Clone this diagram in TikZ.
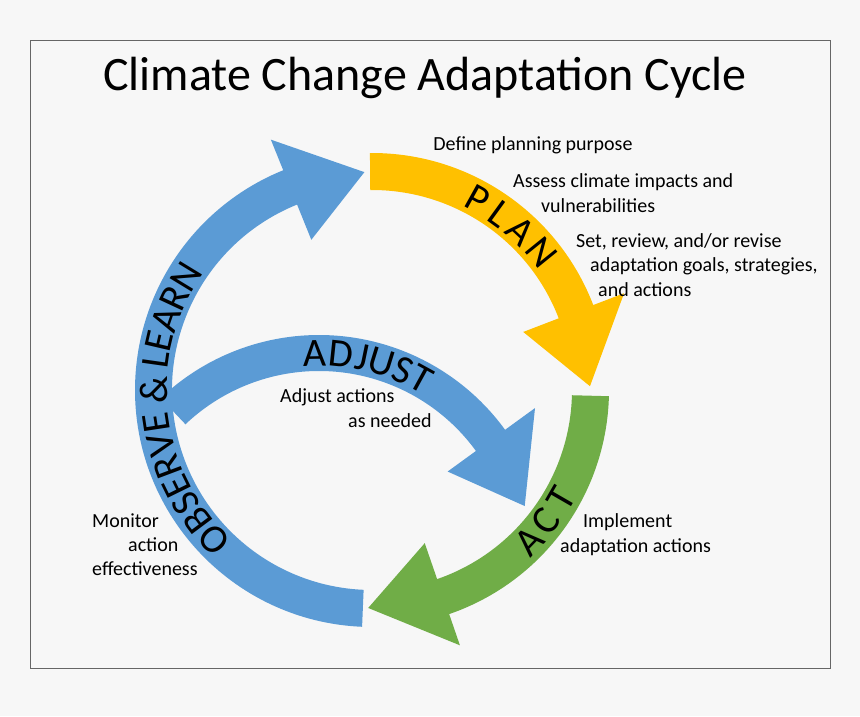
\documentclass[tikz,border=0pt]{standalone}
\usepackage{fontspec}
\setmainfont{Carlito}
\usetikzlibrary{calc}
\definecolor{cblue}{HTML}{5B9BD5}
\definecolor{cyel}{HTML}{FFC000}
\definecolor{cgreen}{HTML}{70AD47}
\definecolor{bg}{HTML}{F7F7F7}
% #1 center, #2 start, #3 base, #4 tip, #5 rin, #6 rout, #7 hin, #8 hout, #9 rtip
\newcommand\arcarrow[9]{%
  ($(#1)+(#2:#6)$) arc[start angle=#2, end angle=#3, radius=#6]
  -- ($(#1)+(#3:#8)$) -- ($(#1)+(#4:#9)$) -- ($(#1)+(#3:#7)$) -- ($(#1)+(#3:#5)$)
  arc[start angle=#3, end angle=#2, radius=#5] -- cycle}
\tikzset{lbl/.style={font=\fontsize{20}{24}\selectfont, inner sep=0pt},
  letter/.style={font=\fontsize{40}{44}\selectfont, inner sep=0pt, anchor=center}}
\begin{document}
\begin{tikzpicture}[x=1pt,y=1pt]
\fill[bg] (0,0) rectangle (860,716);
\useasboundingbox (0,0) rectangle (860,716);
\draw[gray!80!black, line width=0.8pt] (30,48) rectangle (830,676);
\coordinate (C) at (372,326);
\coordinate (D) at (319,151);
\node[inner sep=0pt, font=\fontsize{48}{54}\selectfont] (title) at (425,638) {Climate Change Adaptation Cycle};
\fill[cblue] \arcarrow{C}{267.6}{112}{92}{200}{237}{162}{270}{218};
\fill[cyel] \arcarrow{C}{90.5}{21}{1}{200}{237}{162}{270}{218};
\fill[cgreen] \arcarrow{C}{-1.5}{-71}{-91}{200}{237}{162}{270}{218};
\fill[cblue] \arcarrow{D}{133.5}{36}{16}{194}{230}{159}{267}{214};
\foreach \ch/\a [count=\i] in {P/61,L/54,A/47,N/39}
  \node[letter, rotate=\a-90] (plan\i) at ($(C)+(\a:218)$) {\ch};
\foreach \ch/\a [count=\i] in {A/91,D/84,J/78.3,U/72.8,S/66.8,T/61.3}
  \node[letter, rotate=\a-90] (adj\i) at ($(D)+(\a:212)$) {\ch};
\foreach \ch/\a [count=\i] in {O/223.4,B/216.8,S/211.3,E/206.2,R/200.6,V/194.5,E/188.7,\&/180.1,L/171.9,E/166.9,A/161.1,R/155.0,N/148.6}
  \node[letter, rotate=\a-90] (obs\i) at ($(C)+(\a:218)$) {\ch};
\foreach \ch/\a [count=\i] in {A/-44,C/-37,T/-30}
  \node[letter, rotate=\a+90] (act\i) at ($(C)+(\a:218)$) {\ch};
\node[lbl] (t1) at (533,571) {Define planning purpose};
\node[lbl, anchor=west] (t2) at (513,534) {Assess climate impacts and};
\node[lbl, anchor=west] (t3) at (541,510) {vulnerabilities};
\node[lbl, anchor=west] (t4) at (576,474) {Set, review, and/or revise};
\node[lbl, anchor=west] (t5) at (590,450) {adaptation goals, strategies,};
\node[lbl, anchor=west] (t6) at (598,426) {and actions};
\node[lbl, anchor=west] (t7) at (280,319) {Adjust actions};
\node[lbl, anchor=west] (t8) at (348,295) {as needed};
\node[lbl, anchor=west] (t9) at (92,195) {Monitor};
\node[lbl, anchor=west] (t10) at (128,171) {action};
\node[lbl, anchor=west] (t11) at (92,147) {effectiveness};
\node[lbl, anchor=west] (t12) at (583,194) {Implement};
\node[lbl, anchor=west] (t13) at (560,169) {adaptation actions};
\end{tikzpicture}
\end{document}
